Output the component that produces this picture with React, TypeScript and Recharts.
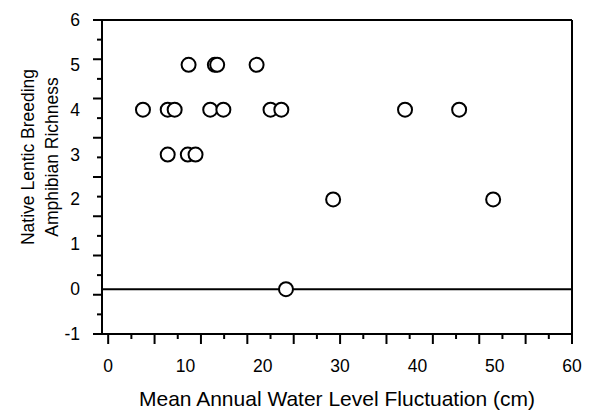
import React from "react";
import {
  ScatterChart,
  Scatter,
  XAxis,
  YAxis,
  ReferenceLine,
} from "recharts";

// mean annual water level fluctuation (cm) for each wetland
const fluctuation = [
  4.5, 7.7, 8.6, 10.4, 7.7, 10.3, 11.3, 13.2, 14.9, 13.8, 14.1, 19.2, 21.0,
  22.4, 23.0, 29.1, 38.4, 45.4, 49.8,
];
// native lentic breeding amphibian richness
const richness = [4, 4, 4, 5, 3, 3, 3, 4, 4, 5, 5, 5, 4, 4, 0, 2, 4, 4, 2];

// tick marks on the axes do not line up with the printed labels in the original
const xMarkTicks = [
  0, 3, 6, 9, 12, 15, 18, 21, 24, 27, 30, 33, 36, 39, 42, 45, 48, 51, 54, 57,
  60,
];
const xLabelTicks = [0, 10, 20, 30, 40, 50, 60];
const yMarkTicks = [
  -1, -0.5625, -0.125, 0.3125, 0.75, 1.1875, 1.625, 2.0625, 2.5, 2.9375, 3.375,
  3.8125, 4.25, 4.6875, 5.125, 5.5625, 6,
];
const yLabelTicks = [-1, 0, 1, 2, 3, 4, 5, 6];

const X_DOMAIN: [number, number] = [-0.8, 60];
const Y_DOMAIN: [number, number] = [-1, 6];
const FONT = '"Liberation Sans", Arial, Helvetica, sans-serif';

const points = fluctuation.map((x, i) => ({ x, y: richness[i] }));
const xTicks = Array.from(new Set([...xMarkTicks, ...xLabelTicks])).sort((a, b) => a - b);
const yTicks = Array.from(new Set([...yMarkTicks, ...yLabelTicks])).sort((a, b) => a - b);

const XTick = (props: any) => {
  const { x, y, payload } = props;
  const v = payload.value;
  const mark = xMarkTicks.includes(v);
  const len = Math.round(v / 3) % 2 === 0 ? 10 : 5;
  return (
    <g>
      {mark && <line x1={x} y1={y} x2={x} y2={y + len} stroke="#000" strokeWidth={2} />}
      {xLabelTicks.includes(v) && (
        <text x={x} y={y + 38} textAnchor="middle" fontFamily={FONT} fontSize={17.5} fill="#000">
          {v}
        </text>
      )}
    </g>
  );
};

const YTick = (props: any) => {
  const { x, y, payload } = props;
  const v = payload.value;
  const mark = yMarkTicks.includes(v);
  const len = Math.round((v + 1) / 0.4375) % 2 === 0 ? 9 : 5;
  return (
    <g>
      {mark && <line x1={x} y1={y} x2={x - len} y2={y} stroke="#000" strokeWidth={2} />}
      {yLabelTicks.includes(v) && (
        <text x={x - 22} y={y + 6} textAnchor="end" fontFamily={FONT} fontSize={17.5} fill="#000">
          {v}
        </text>
      )}
    </g>
  );
};

const Circle = (props: any) => (
  <circle cx={props.cx} cy={props.cy} r={7} fill="#fff" stroke="#000" strokeWidth={2} />
);

const YTitle = () => (
  <g fontFamily={FONT} fontSize={17.5} fill="#000">
    <text transform="translate(33.5,157) rotate(-90)" textAnchor="middle">
      Native Lentic Breeding
    </text>
    <text transform="translate(57.5,157) rotate(-90)" textAnchor="middle">
      Amphibian Richness
    </text>
  </g>
);

const XTitle = () => (
  <text x={337} y={406} textAnchor="middle" fontFamily={FONT} fontSize={21} fill="#000">
    Mean Annual Water Level Fluctuation (cm)
  </text>
);

export default function App() {
  return (
    <div style={{ position: "absolute", left: 0, top: 0, background: "#fff" }}>
      <ScatterChart
        width={593}
        height={417}
        margin={{ top: 19, right: 20, bottom: 0, left: 0 }}
      >
        <XAxis
          dataKey="x"
          type="number"
          domain={X_DOMAIN}
          ticks={xTicks}
          interval={0}
          tick={<XTick />}
          tickLine={false}
          tickSize={0}
          tickMargin={0}
          height={83}
          axisLine={{ stroke: "#000", strokeWidth: 2 }}
          label={<XTitle />}
          allowDataOverflow
        />
        <XAxis
          xAxisId="top"
          orientation="top"
          type="number"
          domain={X_DOMAIN}
          height={1}
          tick={false}
          tickLine={false}
          axisLine={{ stroke: "#000", strokeWidth: 2 }}
          allowDataOverflow
        />
        <YAxis
          dataKey="y"
          type="number"
          domain={Y_DOMAIN}
          ticks={yTicks}
          interval={0}
          tick={<YTick />}
          tickLine={false}
          tickSize={0}
          tickMargin={0}
          width={102}
          axisLine={{ stroke: "#000", strokeWidth: 2 }}
          label={<YTitle />}
          allowDataOverflow
        />
        <YAxis
          yAxisId="right"
          orientation="right"
          type="number"
          domain={Y_DOMAIN}
          width={1}
          tick={false}
          tickLine={false}
          axisLine={{ stroke: "#000", strokeWidth: 2 }}
          allowDataOverflow
        />
        <ReferenceLine y={0} stroke="#000" strokeWidth={2} />
        <Scatter data={points} shape={<Circle />} isAnimationActive={false} />
      </ScatterChart>
    </div>
  );
}
